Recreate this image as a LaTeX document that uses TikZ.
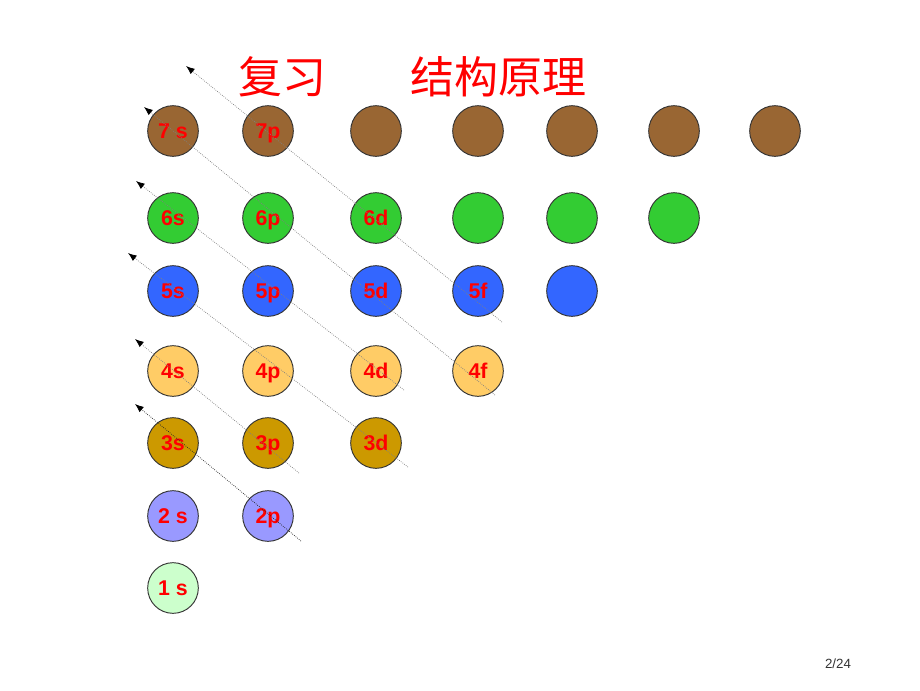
\documentclass[tikz,border=0pt]{standalone}
\usepackage{fontspec}
\setmainfont{Liberation Sans}
\newfontfamily\cjk{Noto Sans CJK SC}
\usepackage{xcolor}
\usetikzlibrary{arrows.meta}
\definecolor{brown7}{HTML}{996633}
\definecolor{green6}{HTML}{33CC33}
\definecolor{blue5}{HTML}{3366FF}
\definecolor{orange4}{HTML}{FFCC66}
\definecolor{gold3}{HTML}{CC9900}
\definecolor{violet2}{HTML}{9999FF}
\definecolor{mint1}{HTML}{CCFFCC}
\tikzset{
  orb/.style={circle, draw=black!80, line width=0.7pt, minimum size=38pt, inner sep=0pt,
    text height=11.5pt, text depth=0pt, font=\fontsize{16}{16}\selectfont\bfseries, text=red},
  orderarrow/.style={densely dotted, draw=black!50, line width=0.55pt, -{Latex[length=6.5pt, width=5pt, black]}},
}

\begin{document}
\begin{tikzpicture}[x=0.75pt, y=-0.75pt]
\useasboundingbox (0,0) rectangle (920,690);

% Title
\node[text=red, font=\cjk\fontsize{33}{33}\selectfont] (title1) at (282,77) {复习};
\node[text=red, font=\cjk\fontsize{33}{33}\selectfont] (title2) at (498,77) {结构原理};

% Row 7
\node[orb, fill=brown7] (s7) at (173,131) {7 s};
\node[orb, fill=brown7] (p7) at (268,131) {7p};
\node[orb, fill=brown7] (d7) at (376,131) {};
\node[orb, fill=brown7] (f7) at (478,131) {};
\node[orb, fill=brown7] (g7) at (572,131) {};
\node[orb, fill=brown7] (h7) at (674,131) {};
\node[orb, fill=brown7] (i7) at (775,131) {};

% Row 6
\node[orb, fill=green6] (s6) at (173,218) {6s};
\node[orb, fill=green6] (p6) at (268,218) {6p};
\node[orb, fill=green6] (d6) at (376,218) {6d};
\node[orb, fill=green6] (f6) at (478,218) {};
\node[orb, fill=green6] (g6) at (572,218) {};
\node[orb, fill=green6] (h6) at (674,218) {};

% Row 5
\node[orb, fill=blue5] (s5) at (173,291) {5s};
\node[orb, fill=blue5] (p5) at (268,291) {5p};
\node[orb, fill=blue5] (d5) at (376,291) {5d};
\node[orb, fill=blue5] (f5) at (478,291) {5f};
\node[orb, fill=blue5] (g5) at (572,291) {};

% Row 4
\node[orb, fill=orange4] (s4) at (173,371) {4s};
\node[orb, fill=orange4] (p4) at (268,371) {4p};
\node[orb, fill=orange4] (d4) at (376,371) {4d};
\node[orb, fill=orange4] (f4) at (478,371) {4f};

% Row 3
\node[orb, fill=gold3] (s3) at (173,443) {3s};
\node[orb, fill=gold3] (p3) at (268,443) {3p};
\node[orb, fill=gold3] (d3) at (376,443) {3d};

% Rows 2 and 1
\node[orb, fill=violet2] (s2) at (173,516) {2 s};
\node[orb, fill=violet2] (p2) at (268,516) {2p};
\node[orb, fill=mint1] (s1) at (173,588) {1 s};

% Filling order arrows
\coordinate (tip1) at (186,66);  \coordinate (end1) at (502,322);
\coordinate (tip2) at (144,107); \coordinate (end2) at (495,395);
\coordinate (tip3) at (136,181); \coordinate (end3) at (404,390);
\coordinate (tip4) at (128,253); \coordinate (end4) at (408,467);
\coordinate (tip5) at (135,339); \coordinate (end5) at (299,473);
\coordinate (tip6) at (135,404); \coordinate (end6) at (301,541);

\draw[orderarrow] (end1) -- (tip1);
\draw[orderarrow] (end2) -- (tip2);
\draw[orderarrow] (end3) -- (tip3);
\draw[orderarrow] (end4) -- (tip4);
\draw[orderarrow] (end5) -- (tip5);
\draw[orderarrow, draw=black!85] (end6) -- (tip6);

% Page number
\node[text=black!80, font=\fontsize{10}{10}\selectfont] (page) at (838,664) {2/24};

\end{tikzpicture}
\end{document}
